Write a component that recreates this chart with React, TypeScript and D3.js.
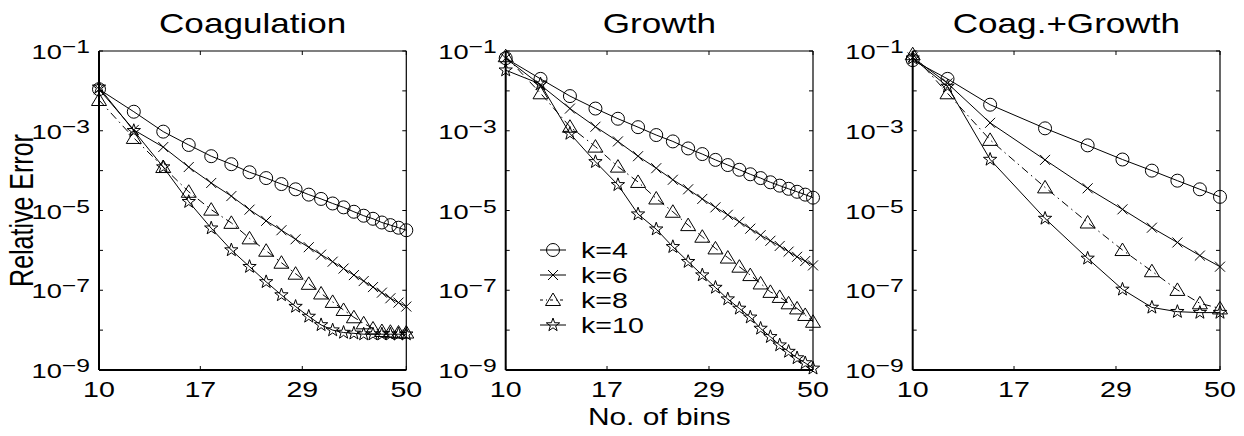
import React from "react";
import * as d3 from "d3";

// ---------- data ----------
const binsFine = [10, 12, 14, 16, 18, 20, 22, 24, 26, 28, 30, 32, 34, 36, 38, 40, 42, 44, 46, 48, 50];
const binsCoarse = [10, 12, 15, 20, 25, 30, 35, 40, 45, 50];
const seriesLabels = ["k=4", "k=6", "k=8", "k=10"];
const panelTitles = ["Coagulation", "Growth", "Coag.+Growth"];
const xTicks = [10, 17, 29, 50];
const yTickExps = [-1, -2, -3, -4, -5, -6, -7, -8, -9];
const yLabelExps = [-1, -3, -5, -7, -9];

const coagK4 = [1.1e-2, 3.0e-3, 9.5e-4, 4.4e-4, 2.3e-4, 1.45e-4, 9.1e-5, 6.5e-5, 4.6e-5, 3.4e-5, 2.5e-5, 1.95e-5, 1.5e-5, 1.2e-5, 9.3e-6, 7.4e-6, 6.2e-6, 5.0e-6, 4.3e-6, 3.7e-6, 3.2e-6];
const coagK6 = [1.1e-2, 1.05e-3, 3.9e-4, 1.23e-4, 4.9e-5, 2.3e-5, 1.05e-5, 5.5e-6, 3.2e-6, 1.9e-6, 1.2e-6, 7.8e-7, 5.2e-7, 3.5e-7, 2.4e-7, 1.7e-7, 1.2e-7, 8.7e-8, 6.3e-8, 4.9e-8, 3.9e-8];
const coagK8 = [5.9e-3, 6.6e-4, 1.23e-4, 2.95e-5, 1.05e-5, 4.9e-6, 2.0e-6, 9.8e-7, 4.9e-7, 2.6e-7, 1.45e-7, 8.3e-8, 5.1e-8, 3.2e-8, 2.1e-8, 1.48e-8, 1.1e-8, 9.5e-9, 9.1e-9, 8.7e-9, 8.7e-9];
const coagK10 = [1.23e-2, 1.0e-3, 1.23e-4, 1.66e-5, 3.6e-6, 1.02e-6, 3.9e-7, 1.62e-7, 7.6e-8, 3.9e-8, 2.2e-8, 1.35e-8, 1.0e-8, 8.7e-9, 8.3e-9, 7.9e-9, 7.9e-9, 7.9e-9, 7.9e-9, 7.9e-9, 7.9e-9];

const growK4 = [6.6e-2, 2.0e-2, 7.4e-3, 3.6e-3, 2.0e-3, 1.23e-3, 7.8e-4, 5.4e-4, 3.6e-4, 2.6e-4, 1.86e-4, 1.38e-4, 1.05e-4, 8.1e-5, 6.5e-5, 5.1e-5, 4.2e-5, 3.5e-5, 2.95e-5, 2.5e-5, 2.1e-5];
const growK6 = [6.6e-2, 1.4e-2, 3.6e-3, 1.26e-3, 5.4e-4, 2.3e-4, 1.15e-4, 5.9e-5, 3.4e-5, 1.95e-5, 1.2e-5, 7.8e-6, 5.2e-6, 3.5e-6, 2.4e-6, 1.74e-6, 1.29e-6, 9.3e-7, 6.9e-7, 5.4e-7, 4.2e-7];
const growK8 = [7.4e-2, 8.7e-3, 1.26e-3, 4.0e-4, 1.26e-4, 5.2e-5, 2.0e-5, 9.3e-6, 4.3e-6, 2.2e-6, 1.12e-6, 6.6e-7, 3.9e-7, 2.4e-7, 1.48e-7, 9.1e-8, 6.8e-8, 4.7e-8, 3.5e-8, 2.4e-8, 1.62e-8];
const growK10 = [3.3e-2, 1.48e-2, 8.5e-4, 1.66e-4, 4.4e-5, 8.1e-6, 3.4e-6, 1.23e-6, 5.2e-7, 2.4e-7, 1.17e-7, 6.0e-8, 3.5e-8, 2.1e-8, 1.1e-8, 6.8e-9, 4.2e-9, 2.9e-9, 2.0e-9, 1.5e-9, 1.1e-9];

const bothK4 = [5.9e-2, 2.0e-2, 4.5e-3, 1.15e-3, 4.3e-4, 1.9e-4, 1.0e-4, 5.6e-5, 3.4e-5, 2.2e-5];
const bothK6 = [6.9e-2, 1.55e-2, 1.58e-3, 1.86e-4, 3.6e-5, 1.07e-5, 3.7e-6, 1.58e-6, 7.4e-7, 3.9e-7];
const bothK8 = [8.3e-2, 8.7e-3, 5.9e-4, 3.8e-5, 5.0e-6, 1.02e-6, 3.0e-7, 1.02e-7, 4.7e-8, 3.5e-8];
const bothK10 = [6.6e-2, 1.29e-2, 1.9e-4, 6.3e-6, 6.3e-7, 1.05e-7, 3.7e-8, 2.9e-8, 2.75e-8, 2.75e-8];

// ---------- layout ----------
const W = 1244, H = 436;
const panelLefts = [99, 505.7, 912.7];
const panelW = 307.3;
const top = 51, bottom = 370;
const FONT = "'Liberation Sans', Arial, Helvetica, sans-serif";
const SX = 1.3; // horizontal stretch of the text in the reference

const panels = [
  { title: panelTitles[0], x: binsFine, ys: [coagK4, coagK6, coagK8, coagK10], legend: false },
  { title: panelTitles[1], x: binsFine, ys: [growK4, growK6, growK8, growK10], legend: true },
  { title: panelTitles[2], x: binsCoarse, ys: [bothK4, bothK6, bothK8, bothK10], legend: false },
];

const dashes = [null, null, "8,4,1.5,4", null];

function Marker({ kind, x, y }: { kind: number; x: number; y: number }) {
  const common = { fill: "none", stroke: "#000", strokeWidth: 1 };
  if (kind === 0) return <circle cx={x} cy={y} r={6.5} {...common} />;
  if (kind === 1) {
    const s = 5;
    return <path d={`M${x - s},${y - s}L${x + s},${y + s}M${x - s},${y + s}L${x + s},${y - s}`} {...common} />;
  }
  if (kind === 2) {
    return <path d={`M${x},${y - 7}L${x + 7.5},${y + 5.5}L${x - 7.5},${y + 5.5}Z`} {...common} />;
  }
  const R = 7, r = 2.8;
  const pts: string[] = [];
  for (let i = 0; i < 10; i++) {
    const a = -Math.PI / 2 + (i * Math.PI) / 5;
    const rr = i % 2 === 0 ? R : r;
    pts.push(`${x + rr * Math.cos(a)},${y + rr * Math.sin(a)}`);
  }
  return <path d={`M${pts.join("L")}Z`} {...common} />;
}

function T({ x, y, size, anchor = "start", children, rotate = 0 }: any) {
  const tr = rotate ? `translate(${x},${y}) scale(${SX},1) rotate(${rotate})` : `translate(${x},${y}) scale(${SX},1)`;
  return (
    <text transform={tr} fontFamily={FONT} fontSize={size} textAnchor={anchor} fill="#000">
      {children}
    </text>
  );
}

function Panel({ p, left }: { p: any; left: number }) {
  const xs = d3.scaleLog().domain([10, 50]).range([left, left + panelW]);
  const ys = d3.scaleLog().domain([1e-9, 1e-1]).range([bottom, top]);
  const line = d3.line<[number, number]>().x((d) => xs(d[0])).y((d) => ys(d[1]));
  const right = left + panelW;
  const tl = 4;
  return (
    <g>
      {p.ys.map((vals: number[], k: number) => {
        const pts = p.x.map((xv: number, i: number) => [xv, vals[i]] as [number, number]);
        return (
          <g key={k}>
            <path d={line(pts) || ""} fill="none" stroke="#000" strokeWidth={1} strokeDasharray={dashes[k] || undefined} />
            {pts.map((d: [number, number], i: number) => (
              <Marker key={i} kind={k} x={xs(d[0])} y={ys(d[1])} />
            ))}
          </g>
        );
      })}
      {/* ticks */}
      {yTickExps.map((e) => {
        const y = ys(Math.pow(10, e));
        return (
          <g key={e}>
            <line x1={left} x2={left + tl} y1={y} y2={y} stroke="#000" />
            <line x1={right} x2={right - tl} y1={y} y2={y} stroke="#000" />
          </g>
        );
      })}
      {xTicks.map((t) => {
        const x = xs(t);
        return (
          <g key={t}>
            <line x1={x} x2={x} y1={bottom} y2={bottom - tl} stroke="#000" />
            <line x1={x} x2={x} y1={top} y2={top + tl} stroke="#000" />
            <T x={x} y={397} size={22} anchor="middle">{String(t)}</T>
          </g>
        );
      })}
      {yLabelExps.map((e) => {
        const y = ys(Math.pow(10, e));
        return (
          <T key={e} x={left - 9} y={y + 8} size={21} anchor="end">
            <tspan>10</tspan>
            <tspan dy={-6} fontSize={19}>{"\u2212" + String(-e)}</tspan>
          </T>
        );
      })}
      {/* box */}
      <line x1={left} x2={right} y1={top} y2={top} stroke="#000" strokeWidth={1.2} />
      <line x1={right} x2={right} y1={top} y2={bottom} stroke="#000" strokeWidth={1.2} />
      <line x1={left} x2={left} y1={top} y2={bottom} stroke="#000" strokeWidth={2} />
      <line x1={left} x2={right} y1={bottom} y2={bottom} stroke="#000" strokeWidth={2} />
      <T x={left + panelW / 2} y={33} size={27} anchor="middle">{p.title}</T>
      {p.legend &&
        seriesLabels.map((lab, k) => {
          const y = 250 + k * 25;
          return (
            <g key={lab}>
              <line x1={540} x2={566} y1={y} y2={y} stroke="#000" strokeDasharray={dashes[k] ? "3,3,1,3" : undefined} />
              <Marker kind={k} x={553} y={y} />
              <T x={581} y={y + 8} size={22}>{lab}</T>
            </g>
          );
        })}
    </g>
  );
}

export default function App() {
  return (
    <svg width={W} height={H} style={{ position: "absolute", left: 0, top: 0, background: "#fff" }}>
      <rect width={W} height={H} fill="#fff" />
      {panels.map((p, i) => (
        <Panel key={i} p={p} left={panelLefts[i]} />
      ))}
      <T x={33} y={(top + bottom) / 2} size={25} anchor="middle" rotate={-90}>Relative Error</T>
      <T x={panelLefts[1] + panelW / 2} y={425} size={23} anchor="middle">No. of bins</T>
    </svg>
  );
}
